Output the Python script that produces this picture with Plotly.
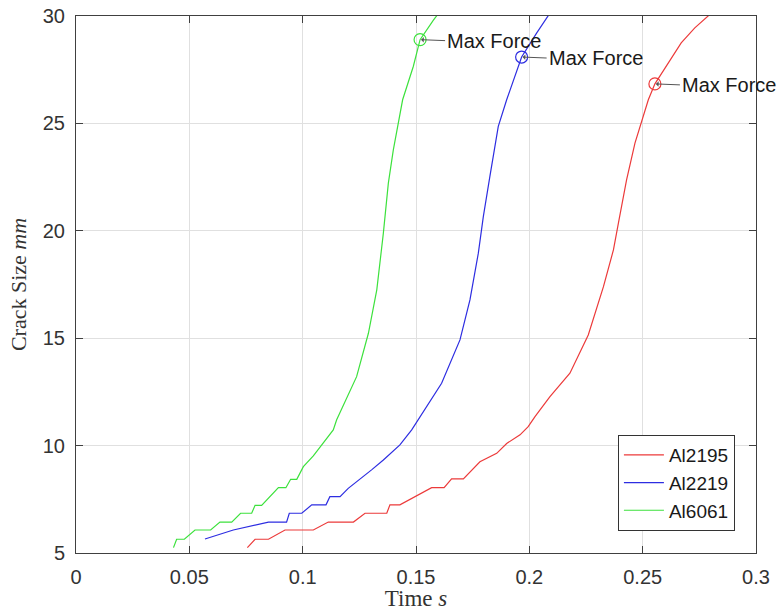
import plotly.graph_objects as go

# Crack growth curves: time (s) vs crack size (mm)
t_al2195 = [0.0756, 0.0790, 0.0849, 0.0922, 0.1047, 0.1113, 0.1224, 0.1275, 0.1371, 0.1385,
            0.1429, 0.1496, 0.1569, 0.1624, 0.1657, 0.1709, 0.1782, 0.1856, 0.1900, 0.1959,
            0.1995, 0.2025, 0.2091, 0.2179, 0.2260, 0.2327, 0.2371, 0.2393, 0.2429, 0.2466,
            0.2496, 0.2525, 0.2554, 0.2620, 0.2670, 0.2730, 0.2810]
a_al2195 = [5.25, 5.64, 5.64, 6.07, 6.07, 6.44, 6.44, 6.85, 6.85, 7.24,
            7.24, 7.62, 8.04, 8.04, 8.45, 8.45, 9.25, 9.64, 10.10, 10.50,
            10.88, 11.35, 12.28, 13.37, 15.15, 17.40, 19.11, 20.36, 22.37, 24.08,
            25.09, 26.10, 26.84, 27.96, 28.75, 29.45, 30.20]

t_al2219 = [0.0569, 0.0694, 0.0849, 0.0929, 0.0941, 0.0996, 0.1040, 0.1103, 0.1120, 0.1165,
            0.1201, 0.1260, 0.1304, 0.1356, 0.1429, 0.1481, 0.1613, 0.1694, 0.1738, 0.1775,
            0.1797, 0.1826, 0.1863, 0.1900, 0.1966, 0.2032, 0.2095]
a_al2219 = [5.65, 6.07, 6.44, 6.44, 6.85, 6.85, 7.24, 7.24, 7.62, 7.62,
            8.01, 8.48, 8.87, 9.33, 10.03, 10.73, 12.90, 14.92, 16.78, 18.96,
            20.66, 22.53, 24.86, 26.10, 28.09, 29.20, 30.20]

t_al6061 = [0.0430, 0.0444, 0.0478, 0.0525, 0.0594, 0.0635, 0.0687, 0.0726, 0.0775, 0.0790,
            0.0819, 0.0893, 0.0926, 0.0947, 0.0974, 0.1003, 0.1047, 0.1084, 0.1121, 0.1135,
            0.1150, 0.1238, 0.1290, 0.1327, 0.1356, 0.1378, 0.1400, 0.1427, 0.1441, 0.1488,
            0.1518, 0.1576, 0.1605]
a_al6061 = [5.25, 5.64, 5.64, 6.07, 6.07, 6.44, 6.44, 6.85, 6.85, 7.22,
            7.22, 8.04, 8.04, 8.43, 8.43, 9.02, 9.52, 10.03, 10.50, 10.73,
            11.20, 13.21, 15.23, 17.25, 19.89, 22.22, 23.77, 25.32, 26.10, 27.65,
            28.90, 29.80, 30.20]

# Maximum-force instants for each alloy
max_force_t = [0.2554, 0.1966, 0.1518]
max_force_a = [26.84, 28.09, 28.90]

names = ["Al2195", "Al2219", "Al6061"]
colors = ["rgb(236,58,58)", "rgb(45,45,225)", "rgb(60,225,60)"]
series_t = [t_al2195, t_al2219, t_al6061]
series_a = [a_al2195, a_al2219, a_al6061]

x_ticks = [0, 0.05, 0.1, 0.15, 0.2, 0.25, 0.3]
y_ticks = [5, 10, 15, 20, 25, 30]

SANS = "Liberation Sans, Arial, Helvetica, sans-serif"
SERIF = "Liberation Serif, Times New Roman, serif"
AXIS_COLOR = "#404040"

fig = go.Figure()

for name, col, tt, aa in zip(names, colors, series_t, series_a):
    fig.add_trace(go.Scatter(x=tt, y=aa, mode="lines", name=name,
                             line=dict(color=col, width=1.2)))

for col, tm, am in zip(colors, max_force_t, max_force_a):
    fig.add_trace(go.Scatter(x=[tm], y=[am], mode="markers", showlegend=False,
                             marker=dict(symbol="circle-open", size=12,
                                         color=col, line=dict(width=1.2, color=col)),
                             cliponaxis=False))
    fig.add_annotation(x=tm, y=am, text="Max Force", showarrow=True,
                       xanchor="left", ax=25, ay=1, axref="pixel", ayref="pixel",
                       arrowhead=1, arrowsize=0.9, arrowwidth=1, arrowcolor="#555555",
                       standoff=1, font=dict(family=SANS, size=20, color="#1a1a1a"))

axis_common = dict(showline=True, linecolor=AXIS_COLOR, linewidth=1, mirror="allticks",
                   ticks="inside", ticklen=7, tickcolor=AXIS_COLOR,
                   showgrid=True, gridcolor="#e0e0e0", gridwidth=1, zeroline=False,
                   automargin=False,
                   tickfont=dict(family=SANS, size=20, color="#333333"))

fig.update_xaxes(range=[0, 0.3], tickvals=x_ticks, ticktext=[f"{v:g}" for v in x_ticks],
                 title=dict(text="Time <i>s</i>", font=dict(family=SERIF, size=23, color="#333333"),
                            standoff=5),
                 ticklabelstandoff=6, **axis_common)
fig.update_yaxes(range=[5, 30], tickvals=y_ticks, ticktext=[str(v) for v in y_ticks],
                 title=dict(text="Crack Size <i>mm</i>", font=dict(family=SERIF, size=22, color="#333333"),
                            standoff=10),
                 ticklabelstandoff=6, **axis_common)

fig.update_layout(
    width=782, height=611,
    margin=dict(l=76, r=26, t=16, b=58),
    plot_bgcolor="white", paper_bgcolor="white",
    legend=dict(x=0.969, y=0.041, xanchor="right", yanchor="bottom",
                bgcolor="white", bordercolor="#333333", borderwidth=1,
                font=dict(family=SANS, size=19, color="#1a1a1a"),
                tracegroupgap=0, itemwidth=40),
)

fig.write_html("out.html")
